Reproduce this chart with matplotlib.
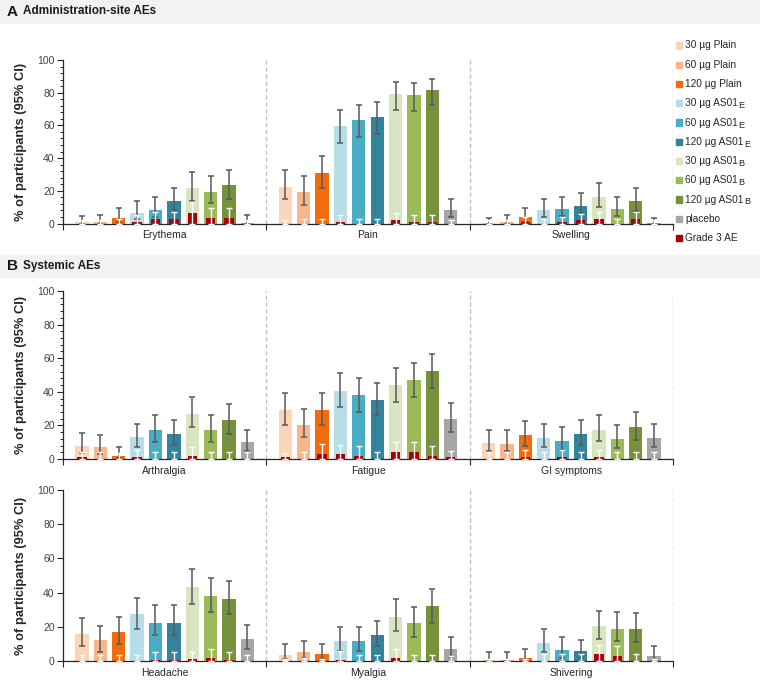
import matplotlib
matplotlib.use('Agg')
import matplotlib.pyplot as plt
from matplotlib.patches import Rectangle
from matplotlib.ticker import MultipleLocator, FixedLocator, NullFormatter
import numpy as np

plt.rcParams['font.family'] = ['Liberation Sans', 'DejaVu Sans']

# ---------------- data ----------------
groups = ['30 µg Plain', '60 µg Plain', '120 µg Plain',
          '30 µg AS01_E', '60 µg AS01_E', '120 µg AS01_E',
          '30 µg AS01_B', '60 µg AS01_B', '120 µg AS01_B',
          'placebo']
grade3_label = 'Grade 3 AE'
colors = ['#FBD5B8', '#F9B68B', '#F26B0C',
          '#B7DDE8', '#4BACC6', '#31849B',
          '#D9E5C1', '#9BBB59', '#76923C',
          '#A6A6A6']
grade3_color = '#A8000A'

panelA_cats = ['Erythema', 'Pain', 'Swelling']
panelB1_cats = ['Arthralgia', 'Fatigue', 'GI symptoms']
panelB2_cats = ['Headache', 'Myalgia', 'Shivering']

erythema_val = [1, 1, 3.5, 6.5, 8.5, 13.5, 21.5, 19.5, 23.5, 0.5]
erythema_lo = [0, 0, 1, 2.5, 4, 8, 13.5, 12.5, 15, 0]
erythema_hi = [4.5, 5, 9.5, 13.5, 16, 22, 31.5, 29, 33, 5]
erythema_g3 = [0, 0, 0, 1, 2.5, 2.5, 6.5, 3.5, 3.5, 0]
erythema_g3hi = [2, 2, 3, 5, 7, 7, 13, 9.5, 9.5, 2]

pain_val = [22.5, 19.5, 31, 59.5, 63, 65, 79, 78.5, 81.5, 8]
pain_lo = [15, 11.5, 22, 49, 53, 55, 69.5, 69, 72.5, 4]
pain_hi = [32.5, 29, 41, 69.5, 72.5, 74.5, 86.5, 86, 88.5, 15]
pain_g3 = [0, 0, 0, 1, 0, 0, 2, 1, 1, 0]
pain_g3hi = [2, 3, 3, 5, 3, 3, 6.5, 5, 5, 2]

swelling_val = [0.5, 1, 4, 8, 9, 11, 16, 9, 13.5, 0.5]
swelling_lo = [0, 0, 1, 4, 4.5, 5.5, 10, 4.5, 7.5, 0]
swelling_hi = [3.5, 5, 9.5, 15, 16, 18.5, 25, 16, 22, 3.5]
swelling_g3 = [0, 0, 1, 0, 1, 2, 2.5, 0, 2.5, 0]
swelling_g3hi = [2, 2, 4, 3, 4, 6, 7, 3, 7, 2]

arthralgia_val = [8, 7, 2, 13, 17, 15, 27, 17, 23, 10]
arthralgia_lo = [3.5, 3, 0.5, 7, 10, 8.5, 19, 10, 15, 5]
arthralgia_hi = [15.5, 14.5, 7, 21, 26, 23.5, 37, 26, 32.5, 17.5]
arthralgia_g3 = [1.2, 0, 0, 1.2, 0, 0, 2, 0, 0, 0]
arthralgia_g3hi = [4, 4, 3.5, 5.5, 4, 4, 7, 4, 4, 4]

fatigue_val = [29, 20.5, 29, 40.5, 38, 35, 44, 47, 52.5, 24]
fatigue_lo = [20, 13, 20, 31, 28, 26, 34, 37, 42.5, 16]
fatigue_hi = [39, 30, 39, 51, 48.5, 45.5, 54, 57, 62.5, 33.5]
fatigue_g3 = [1, 0, 3, 3, 2, 0, 4, 4, 2, 1]
fatigue_g3hi = [3.5, 4, 9, 8.5, 7.5, 4, 10, 10, 7.5, 5]

gi_val = [9.5, 9, 14, 12.5, 11, 15, 17.5, 12, 19, 12.5]
gi_lo = [5, 4.5, 8, 7, 5.5, 8.5, 10.5, 6.5, 11.5, 7]
gi_hi = [17.5, 17, 22.5, 21, 19, 23.5, 26, 20, 28, 21]
gi_g3 = [0, 0, 1, 0, 1, 0, 1, 0, 0, 0]
gi_g3hi = [4, 4, 5.5, 4, 5.5, 4, 5.5, 4, 4, 4]

headache_val = [16, 12, 17, 27.5, 22.5, 22.5, 43.5, 38, 36.5, 13]
headache_lo = [9, 5, 10, 19, 15, 15, 33.5, 28.5, 27.5, 7]
headache_hi = [25, 20.5, 26, 37, 32.5, 32.5, 54, 48.5, 47, 21]
headache_g3 = [0, 0, 0, 0, 0.7, 0.7, 1, 1.5, 0.7, 0]
headache_g3hi = [3.5, 3.5, 3.5, 3.5, 5, 5, 5, 7, 5, 3.5]

myalgia_val = [3.5, 5, 4, 11.5, 11.5, 15, 26, 22, 32, 7]
myalgia_lo = [1, 2, 1, 6, 6, 8.5, 17.5, 14, 22.5, 2.5]
myalgia_hi = [10, 11.5, 10, 20, 20, 23.5, 36, 31.5, 42, 14]
myalgia_g3 = [0, 0, 0, 0.8, 0, 0, 1.7, 0, 0, 0]
myalgia_g3hi = [1, 2, 1, 6, 3.7, 3.7, 7, 3.7, 3.7, 3]

shivering_val = [0.3, 0.5, 2, 10.5, 6.5, 6, 20.5, 19, 18.5, 3]
shivering_lo = [0, 0, 0.5, 5, 1.5, 1.5, 13, 11.5, 11, 0.8]
shivering_hi = [5.3, 5.3, 7, 19, 14, 12.5, 29.5, 28.5, 28, 8.5]
shivering_g3 = [0, 0, 0, 0, 0, 0, 4, 3, 0, 0]
shivering_g3hi = [1, 1, 1, 4, 4, 4, 9.5, 8.5, 4, 1]

data = {
    'Erythema': (erythema_val, erythema_lo, erythema_hi, erythema_g3, erythema_g3hi),
    'Pain': (pain_val, pain_lo, pain_hi, pain_g3, pain_g3hi),
    'Swelling': (swelling_val, swelling_lo, swelling_hi, swelling_g3, swelling_g3hi),
    'Arthralgia': (arthralgia_val, arthralgia_lo, arthralgia_hi, arthralgia_g3, arthralgia_g3hi),
    'Fatigue': (fatigue_val, fatigue_lo, fatigue_hi, fatigue_g3, fatigue_g3hi),
    'GI symptoms': (gi_val, gi_lo, gi_hi, gi_g3, gi_g3hi),
    'Headache': (headache_val, headache_lo, headache_hi, headache_g3, headache_g3hi),
    'Myalgia': (myalgia_val, myalgia_lo, myalgia_hi, myalgia_g3, myalgia_g3hi),
    'Shivering': (shivering_val, shivering_lo, shivering_hi, shivering_g3, shivering_g3hi),
}

# ---------------- figure ----------------
W, H = 760, 684
fig = plt.figure(figsize=(W / 100, H / 100), dpi=100)
renderer = fig.canvas.get_renderer()


def fr(x0, y0, x1, y1):
    return [x0 / W, 1 - y1 / H, (x1 - x0) / W, (y1 - y0) / H]


# header bands
for (y0, y1, letter, title) in [(0, 23, 'A', 'Administration-site AEs'),
                                (255, 277, 'B', 'Systemic AEs')]:
    fig.patches.append(Rectangle((0, 1 - y1 / H), 1, (y1 - y0) / H,
                                 transform=fig.transFigure, color='#F2F2F2', zorder=0))
    yc = 1 - (y0 + y1) / 2 / H
    fig.text(7 / W, yc, letter, fontsize=11, fontweight='bold', va='center', ha='left', color='#1a1a1a')
    fig.text(23 / W, yc, title, fontsize=8.5, fontweight='bold', va='center', ha='left', color='#1a1a1a')

panels = [((63, 60, 673, 223.5), panelA_cats, True),
          ((63, 291, 673, 459), panelB1_cats, True),
          ((63, 490, 673, 661), panelB2_cats, False)]

pitch = 0.0905
bw = 0.0655
rw = 0.046
n = len(groups)

for rect, cats, minor in panels:
    ax = fig.add_axes(fr(*rect))
    for gi, cat in enumerate(cats):
        v, lo, hi, g, ghi = [np.array(a, dtype=float) for a in data[cat]]
        x = gi + (np.arange(n) - (n - 1) / 2) * pitch
        ax.bar(x, v, width=bw, color=colors, zorder=2, linewidth=0)
        ax.errorbar(x, v, yerr=[v - lo, hi - v], fmt='none', ecolor='#595959',
                    elinewidth=1.1, capsize=2.2, capthick=1.1, zorder=3)
        ax.bar(x, g, width=rw, color=grade3_color, zorder=4, linewidth=0)
        ax.errorbar(x, g, yerr=[g, ghi - g], fmt='none', ecolor='white',
                    elinewidth=1.0, capsize=2.0, capthick=1.0, zorder=5)
    ax.vlines([0.5, 1.5, 2.5], 0, 100, colors='#BFBFBF', linestyles=(0, (3, 2)), lw=1, zorder=1)
    ax.set_xlim(-0.5, 2.5)
    ax.set_ylim(0, 100)
    for s in ['top', 'right']:
        ax.spines[s].set_visible(False)
    ax.spines['left'].set_color('#262626')
    ax.spines['bottom'].set_color('#262626')
    ax.spines['left'].set_linewidth(0.9)
    ax.spines['bottom'].set_linewidth(0.9)
    ax.yaxis.set_major_locator(MultipleLocator(20))
    if minor:
        ax.yaxis.set_minor_locator(MultipleLocator(4))
    ax.tick_params(axis='y', which='major', length=4, width=0.8, labelsize=7.5,
                   labelcolor='#404040', color='#262626', pad=2)
    ax.tick_params(axis='y', which='minor', length=2.5, width=0.7, color='#262626')
    ax.xaxis.set_major_locator(FixedLocator([-0.5, 0.5, 1.5, 2.5]))
    ax.xaxis.set_major_formatter(NullFormatter())
    ax.xaxis.set_minor_locator(FixedLocator([0, 1, 2]))
    ax.set_xticklabels(cats, minor=True)
    ax.tick_params(axis='x', which='major', length=4, width=0.8, color='#262626')
    ax.tick_params(axis='x', which='minor', length=0, labelsize=7.5, labelcolor='#262626', pad=5)
    yc = 1 - (rect[1] + rect[3]) / 2 / H
    fig.text(21 / W, yc, '% of participants (95% CI)', rotation=90, fontsize=9.3,
             fontweight='bold', va='center', ha='center', color='#262626')

# legend (subscript drawn as a separate, slightly smaller, lowered text)
leg_labels = groups + [grade3_label]
leg_colors = colors + [grade3_color]
for k, (lab, c) in enumerate(zip(leg_labels, leg_colors)):
    yk = 45.5 + 19.25 * k
    fig.patches.append(Rectangle((676 / W, 1 - (yk + 3) / H), 6 / W, 6 / H,
                                 transform=fig.transFigure, color=c, zorder=3))
    main, _, sub = lab.partition('_')
    t = fig.text(685 / W, 1 - yk / H, main, fontsize=7.3, va='center', ha='left', color='#262626')
    if sub:
        bb = t.get_window_extent(renderer=renderer)
        fig.text(bb.x1 / W + 0.4 / W, 1 - (yk + 2.5) / H, sub, fontsize=6.6,
                 va='center', ha='left', color='#262626')

fig.savefig('out.png', dpi=100)
